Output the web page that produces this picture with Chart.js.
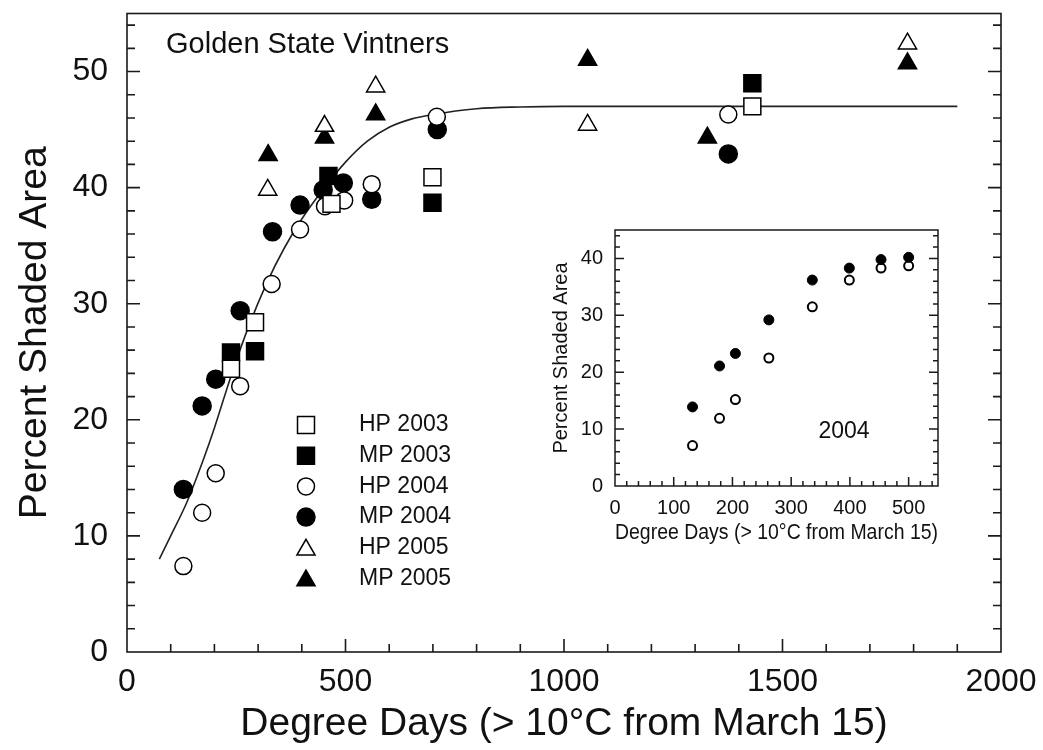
<!DOCTYPE html>
<html lang="en">
<head>
<meta charset="UTF-8">
<title>Percent Shaded Area vs Degree Days</title>
<style>
  body { margin: 0; background: #fff; }
  .wrap { position: relative; width: 1043px; height: 750px; }
  #inset { position: absolute; left: 540px; top: 220px; background: #fff; }
</style>
<script src="https://cdn.jsdelivr.net/npm/chart.js"></script>
</head>
<body>
<div class="wrap">
  <canvas id="main" width="1043" height="750"></canvas>
  <canvas id="inset" width="420" height="330"></canvas>
</div>
<script>
// values: [degree days, percent shaded area]
const hp2003 = [[238, 24.4], [293, 28.4], [468, 38.6], [699, 40.9], [1431, 47.0]];
const mp2003 = [[238, 25.8], [293, 25.9], [461, 41.0], [699, 38.7], [1431, 49.0]];
const hp2004 = [[129, 7.4], [172, 12.0], [203, 15.4], [259, 22.9], [331, 31.7], [396, 36.4],
                [453, 38.4], [497, 38.9], [560, 40.3], [709, 46.1], [1376, 46.3]];
const mp2004 = [[129, 14.0], [172, 21.2], [203, 23.5], [259, 29.4], [333, 36.2], [396, 38.5],
                [449, 39.8], [495, 40.4], [560, 39.0], [710, 45.0], [1376, 42.9]];
const hp2005 = [[322, 39.8], [452, 45.3], [569, 48.7], [1054, 45.4], [1786, 52.4]];
const mp2005 = [[323, 42.8], [452, 44.3], [569, 46.3], [1054, 51.0], [1328, 44.3], [1786, 50.7]];

// fitted curve
const fitCurve = [[74, 8.0], [100, 10.0], [137, 12.9], [175, 16.6], [200, 19.3], [240, 24.0],
                  [280, 28.2], [320, 31.8], [360, 34.8], [400, 37.3], [450, 39.9], [500, 42.2],
                  [550, 44.0], [600, 45.2], [650, 45.9], [700, 46.3], [800, 46.8], [900, 46.95],
                  [1000, 47.0], [1500, 47.0], [1900, 47.0]];

// inset (2004 only)
const insetHp2004 = [[132, 7.1], [178, 11.9], [205, 15.2], [262, 22.5], [336, 31.5], [399, 36.2], [453, 38.3], [500, 38.7]];
const insetMp2004 = [[132, 13.9], [178, 21.1], [205, 23.3], [262, 29.2], [336, 36.2], [399, 38.3], [453, 39.8], [500, 40.2]];

const seriesNames = ['HP 2003', 'MP 2003', 'HP 2004', 'MP 2004', 'HP 2005', 'MP 2005'];
const xTitle = 'Degree Days (> 10\u00B0C from March 15)';
const yTitle = 'Percent Shaded Area';

const FONT = 'Arial, "Liberation Sans", sans-serif';
const pts = arr => arr.map(([x, y]) => ({ x, y }));

// marker look per series
const markers = [
  { style: 'rect', r: 12, filled: false },
  { style: 'rect', r: 12, filled: true },
  { style: 'circle', r: 8.5, filled: false },
  { style: 'circle', r: 9, filled: true },
  { style: 'triangle', r: 10.5, filled: false },
  { style: 'triangle', r: 10.5, filled: true }
];

function drawMarker(ctx, m, x, y, lw) {
  ctx.beginPath();
  if (m.style === 'rect') {
    const s = m.r * Math.SQRT1_2;
    ctx.rect(x - s, y - s, 2 * s, 2 * s);
  } else if (m.style === 'triangle') {
    ctx.moveTo(x, y - m.r);
    ctx.lineTo(x + m.r * 0.866, y + m.r / 2);
    ctx.lineTo(x - m.r * 0.866, y + m.r / 2);
    ctx.closePath();
  } else {
    ctx.arc(x, y, m.r, 0, Math.PI * 2);
  }
  ctx.fillStyle = m.filled ? '#000' : '#fff';
  ctx.fill();
  ctx.lineWidth = lw;
  ctx.strokeStyle = '#000';
  ctx.stroke();
}

// frame + inward major/minor ticks on left, bottom and right
function edgeTicks(o) {
  return {
    id: 'edgeTicks',
    afterDraw(chart) {
      const { ctx, chartArea: a, scales: { x, y } } = chart;
      ctx.save();
      ctx.strokeStyle = '#1a1a1a';
      ctx.lineWidth = o.lw;
      ctx.strokeRect(a.left, a.top, a.right - a.left, a.bottom - a.top);
      ctx.beginPath();
      const nx = Math.round((x.max - x.min) / o.xMinor);
      for (let i = 1; i < nx; i++) {
        const v = x.min + i * o.xMinor;
        const px = x.getPixelForValue(v);
        const len = (v % o.xMajor === 0) ? o.major : o.minor;
        ctx.moveTo(px, a.bottom);
        ctx.lineTo(px, a.bottom - len);
      }
      const ny = Math.floor((y.max - y.min) / o.yMinor + 0.001);
      for (let i = 1; i <= ny; i++) {
        const v = y.min + i * o.yMinor;
        const py = y.getPixelForValue(v);
        const len = (v % o.yMajor === 0) ? o.major : o.minor;
        ctx.moveTo(a.left, py);
        ctx.lineTo(a.left + len, py);
        ctx.moveTo(a.right, py);
        ctx.lineTo(a.right - len, py);
      }
      ctx.stroke();
      ctx.restore();
    }
  };
}

// legend and the site label
const mainNotes = {
  id: 'mainNotes',
  afterDraw(chart) {
    const ctx = chart.ctx;
    ctx.save();
    ctx.fillStyle = '#111';
    ctx.textBaseline = 'middle';
    ctx.textAlign = 'left';
    ctx.font = '29px ' + FONT;
    ctx.fillText('Golden State Vintners', 166, 45);
    ctx.font = '23px ' + FONT;
    seriesNames.forEach((name, i) => {
      const yy = 425 + i * 30.7;
      const m = markers[i];
      drawMarker(ctx, m, 306, m.style === 'triangle' ? yy + 2 : yy, 1.5);
      ctx.fillStyle = '#111';
      ctx.fillText(name, 359, yy);
    });
    ctx.restore();
  }
};

const scatterSets = [hp2003, mp2003, hp2004, mp2004, hp2005, mp2005].map((d, i) => ({
  label: seriesNames[i],
  data: pts(d),
  pointStyle: markers[i].style,
  pointRadius: markers[i].r,
  pointHoverRadius: markers[i].r,
  pointBackgroundColor: markers[i].filled ? '#000' : '#fff',
  pointBorderColor: '#000',
  pointBorderWidth: 1.5,
  order: 1
}));

const plainNum = v => String(v);

new Chart(document.getElementById('main'), {
  type: 'scatter',
  data: {
    datasets: [
      {
        type: 'line',
        label: 'fit',
        data: pts(fitCurve),
        borderColor: '#222',
        borderWidth: 1.6,
        pointRadius: 0,
        cubicInterpolationMode: 'monotone',
        fill: false,
        order: 5
      },
      ...scatterSets
    ]
  },
  options: {
    responsive: false,
    animation: false,
    layout: { padding: { top: 11, right: 42, left: 0, bottom: 0 } },
    plugins: { legend: { display: false }, tooltip: { enabled: false } },
    scales: {
      x: {
        type: 'linear', min: 0, max: 2000,
        grid: { display: false, drawTicks: false },
        border: { display: false },
        ticks: { stepSize: 500, padding: 11, color: '#111', font: { family: FONT, size: 32 }, maxRotation: 0, callback: plainNum },
        title: { display: true, text: xTitle, color: '#111', font: { family: FONT, size: 39 }, padding: { top: 0, bottom: 2 } },
        afterFit(s) { s.height = 98; s.paddingLeft = 0; s.paddingRight = 0; }
      },
      y: {
        min: 0, max: 55,
        grid: { display: false, drawTicks: false },
        border: { display: false },
        ticks: { stepSize: 10, includeBounds: false, padding: 19, color: '#111', font: { family: FONT, size: 32 }, callback: plainNum },
        title: { display: true, text: yTitle, color: '#111', font: { family: FONT, size: 39 }, padding: { top: 12, bottom: 0 } },
        afterFit(s) { s.width = 127; s.paddingTop = 0; s.paddingBottom = 0; }
      }
    }
  },
  plugins: [edgeTicks({ lw: 1.6, major: 13, minor: 8, xMinor: 100, xMajor: 500, yMinor: 2, yMajor: 10 }), mainNotes]
});

// inset chart
const insetNote = {
  id: 'insetNote',
  afterDraw(chart) {
    const ctx = chart.ctx;
    ctx.save();
    ctx.fillStyle = '#111';
    ctx.font = '23px ' + FONT;
    ctx.textAlign = 'center';
    ctx.textBaseline = 'middle';
    ctx.fillText('2004', 304, 212);
    ctx.restore();
  }
};

new Chart(document.getElementById('inset'), {
  type: 'scatter',
  data: {
    datasets: [
      {
        label: 'MP 2004', data: pts(insetMp2004), pointRadius: 5, pointHoverRadius: 5,
        pointBackgroundColor: '#000', pointBorderColor: '#000', pointBorderWidth: 1
      },
      {
        label: 'HP 2004', data: pts(insetHp2004), pointRadius: 4.5, pointHoverRadius: 4.5,
        pointBackgroundColor: '#fff', pointBorderColor: '#000', pointBorderWidth: 2
      }
    ]
  },
  options: {
    responsive: false,
    animation: false,
    layout: { padding: { top: 10, right: 22, left: 0, bottom: 0 } },
    plugins: { legend: { display: false }, tooltip: { enabled: false } },
    scales: {
      x: {
        type: 'linear', min: 0, max: 550,
        grid: { display: false, drawTicks: false },
        border: { display: false },
        ticks: { stepSize: 100, includeBounds: false, padding: 10, color: '#111', font: { family: FONT, size: 20 }, maxRotation: 0 },
        title: { display: true, text: xTitle, color: '#111', font: { family: FONT, size: 21.5 }, padding: { top: 0, bottom: 4 } },
        afterFit(s) { s.height = 64; s.paddingLeft = 0; s.paddingRight = 0; }
      },
      y: {
        min: 0, max: 45,
        grid: { display: false, drawTicks: false },
        border: { display: false },
        ticks: { stepSize: 10, includeBounds: false, padding: 12, color: '#111', font: { family: FONT, size: 20 } },
        title: { display: true, text: yTitle, color: '#111', font: { family: FONT, size: 20 }, padding: { top: 9, bottom: 0 } },
        afterFit(s) { s.width = 75; s.paddingTop = 0; s.paddingBottom = 0; }
      }
    }
  },
  plugins: [edgeTicks({ lw: 1.5, major: 9, minor: 5, xMinor: 20, xMajor: 100, yMinor: 2, yMajor: 10 }), insetNote]
});
</script>
</body>
</html>
